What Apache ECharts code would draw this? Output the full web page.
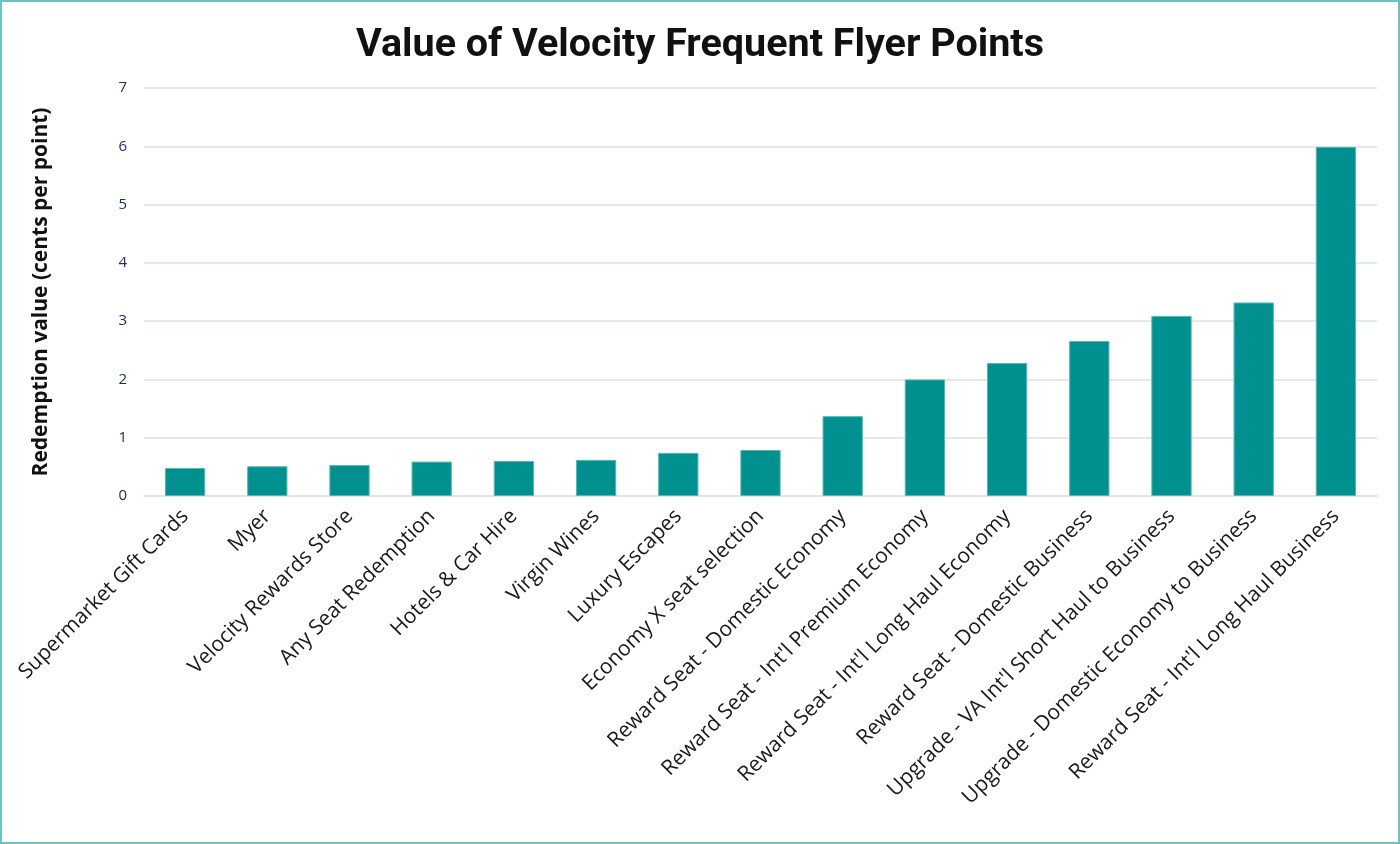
<!DOCTYPE html>
<html>
<head>
<meta charset="utf-8">
<script src="https://cdn.jsdelivr.net/npm/echarts@6/dist/echarts.min.js"></script>
<style>
html,body{margin:0;padding:0;background:#fff;}
#frame{position:absolute;left:0;top:0;width:1396px;height:840px;border:2px solid #6cc3c0;}
#chart{width:1396px;height:840px;}
</style>
</head>
<body>
<div id="frame"><div id="chart"></div></div>
<script>
const categories = [
  "Supermarket Gift Cards",
  "Myer",
  "Velocity Rewards Store",
  "Any Seat Redemption",
  "Hotels & Car Hire",
  "Virgin Wines",
  "Luxury Escapes",
  "Economy X seat selection",
  "Reward Seat - Domestic Economy",
  "Reward Seat - Int'l Premium Economy",
  "Reward Seat - Int'l Long Haul Economy",
  "Reward Seat - Domestic Business",
  "Upgrade - VA Int'l Short Haul to Business",
  "Upgrade - Domestic Economy to Business",
  "Reward Seat - Int'l Long Haul Business"
];
const values = [0.48, 0.51, 0.53, 0.59, 0.60, 0.62, 0.74, 0.79, 1.37, 2.0, 2.28, 2.66, 3.09, 3.32, 5.99];
const yTicks = [0, 1, 2, 3, 4, 5, 6, 7];

const chart = echarts.init(document.getElementById('chart'));
chart.setOption({
  animation: false,
  title: {
    text: 'Value of Velocity Frequent Flyer Points',
    left: 'center',
    top: 19,
    textStyle: {fontFamily: 'Roboto', fontWeight: 'bold', fontSize: 39.5, color: '#111'}
  },
  grid: {left: 142, right: 21, top: 86, bottom: 346, containLabel: false},
  xAxis: {
    type: 'category',
    data: categories,
    axisTick: {show: false},
    axisLine: {lineStyle: {color: '#dde1ea', width: 1.5}},
    axisLabel: {
      rotate: 45, interval: 0, margin: 17,
      fontFamily: 'Open Sans', fontSize: 21, color: '#1a1a1a'
    }
  },
  yAxis: {
    type: 'value',
    min: 0, max: 7, interval: 1,
    name: 'Redemption value (cents per point)',
    nameLocation: 'middle',
    nameGap: 92,
    nameRotate: 90,
    nameTextStyle: {fontFamily: 'Open Sans', fontWeight: 'bold', fontSize: 21, color: '#111'},
    axisLine: {show: false},
    axisTick: {show: false},
    splitLine: {lineStyle: {color: '#dde1ea', width: 1.5}},
    axisLabel: {
      margin: 17,
      fontFamily: 'Open Sans', fontSize: 15, color: '#1f3060',
      formatter: v => yTicks.includes(v) ? String(v) : ''
    }
  },
  series: [{
    type: 'bar',
    data: values,
    barWidth: '49%',
    itemStyle: {color: '#009090', borderColor: '#56b7b5', borderWidth: 1}
  }]
});
</script>
</body>
</html>
